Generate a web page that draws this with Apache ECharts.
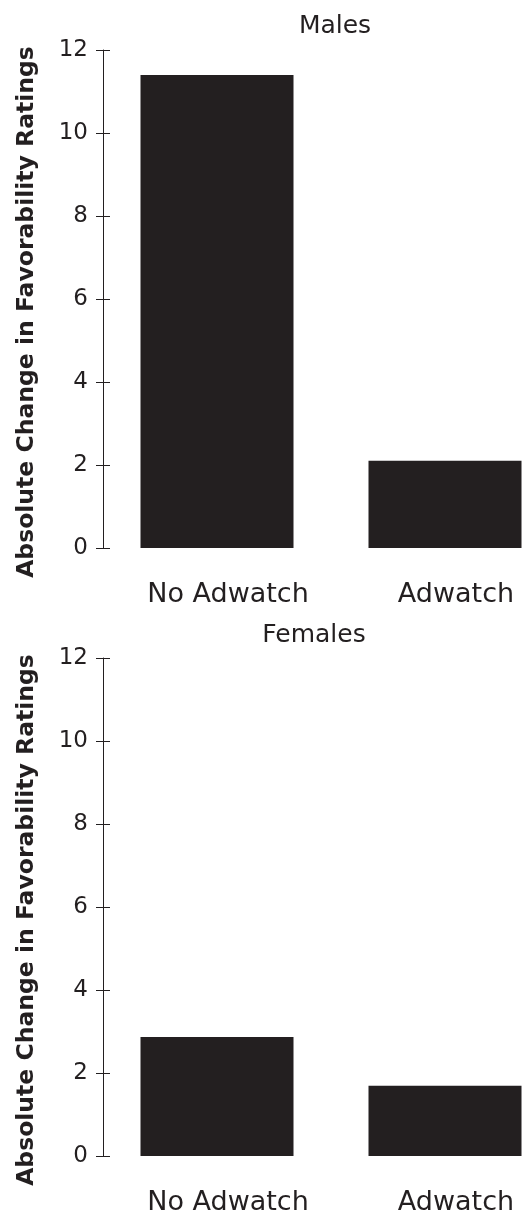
<!DOCTYPE html>
<html>
<head>
<meta charset="utf-8">
<script src="https://cdn.jsdelivr.net/npm/echarts@6/dist/echarts.min.js"></script>
<style>html,body{margin:0;padding:0;background:#fff;}#c{width:532px;height:1217px;}</style>
</head>
<body>
<div id="c"></div>
<script>
const categories = ['No Adwatch', 'Adwatch'];
const malesValues = [11.4, 2.1];
const femalesValues = [2.87, 1.69];
const panelTitles = ['Males', 'Females'];
const yTicks = [0, 2, 4, 6, 8, 10, 12];
const yAxisName = 'Absolute Change in Favorability Ratings';

const FONT = 'DejaVu Sans';
const ink = '#231f20';
const grids = [
  {left: 103, width: 456, top: 50, height: 498, outerBoundsMode: 'none', containLabel: false},
  {left: 103, width: 456, top: 658, height: 498, outerBoundsMode: 'none', containLabel: false}
];
const chart = echarts.init(document.getElementById('c'));
const xAxes = [], yAxes = [], series = [];
[malesValues, femalesValues].forEach((vals, i) => {
  xAxes.push({
    type: 'category', gridIndex: i, data: categories,
    axisLine: {show: false}, axisTick: {show: false},
    axisLabel: {color: ink, fontFamily: FONT, fontSize: 27, margin: 33, padding: [0, 0, 0, 22]}
  });
  const base = {
    type: 'value', gridIndex: i, position: 'left', min: yTicks[0], max: yTicks[yTicks.length - 1], interval: 2,
    splitLine: {show: false}
  };
  yAxes.push(Object.assign({}, base, {
    name: yAxisName, nameLocation: 'middle', nameGap: 64,
    nameTextStyle: {color: ink, fontFamily: FONT, fontWeight: 'bold', fontSize: 23.5, padding: [0, 26, 0, 0]},
    axisLine: {show: true, lineStyle: {color: ink, width: 1}},
    axisTick: {show: true, inside: false, length: 7, lineStyle: {color: ink}},
    axisLabel: {color: ink, fontFamily: FONT, fontSize: 23, margin: 15}
  }));
  yAxes.push(Object.assign({}, base, {
    axisLine: {show: false},
    axisTick: {show: true, inside: true, length: 7, lineStyle: {color: ink}},
    axisLabel: {show: false}
  }));
  series.push({
    type: 'bar', xAxisIndex: i, yAxisIndex: i * 2, data: vals,
    barWidth: 153, itemStyle: {color: ink}, silent: true
  });
});
chart.setOption({
  animation: false,
  title: [
    {text: panelTitles[0], left: 330, top: 9, textAlign: 'center',
     textStyle: {color: ink, fontFamily: FONT, fontWeight: 'normal', fontSize: 25}},
    {text: panelTitles[1], left: 309, top: 618, textAlign: 'center',
     textStyle: {color: ink, fontFamily: FONT, fontWeight: 'normal', fontSize: 25}}
  ],
  grid: grids,
  xAxis: xAxes,
  yAxis: yAxes,
  series: series
});
</script>
</body>
</html>
